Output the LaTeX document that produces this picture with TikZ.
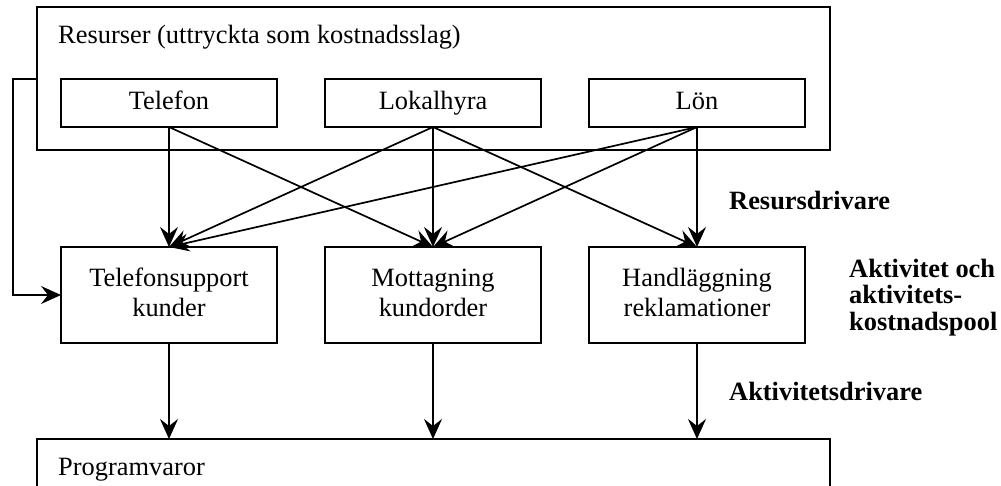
\documentclass[tikz,border=0pt]{standalone}
\usepackage{fontspec}
\setmainfont{Liberation Serif}
\usetikzlibrary{arrows.meta}
\begin{document}
\begin{tikzpicture}[x=1pt,y=-1pt,
  txt/.style={font=\fontsize{26.4}{30}\selectfont},
  box/.style={txt,draw,line width=2.2pt,inner sep=0pt,outer sep=0pt,minimum width=216pt},
  topbox/.style={box,minimum height=48pt,text height=18pt,text depth=6pt},
  midbox/.style={box,minimum height=96pt,align=center},
  arr/.style={line width=1.7pt,-{Stealth[length=20pt,width=18pt,inset=7pt]}},
  lbl/.style={font=\fontsize{26.4}{26.5}\selectfont\bfseries,anchor=base west,inner sep=0pt,align=left}]
\useasboundingbox (0,0) rectangle (1001,485);
\clip (0,0) rectangle (1001,485);
% outer resource box
\node[draw,line width=2.2pt,inner sep=0pt,outer sep=0pt,minimum width=793pt,minimum height=143pt] (res) at (433.5,78.5) {};
\node[txt,anchor=base west,inner sep=0pt] (restxt) at (58,43) {Resurser (uttryckta som kostnadsslag)};
\node[topbox] (tel) at (169,103) {Telefon};
\node[topbox] (lok) at (433,103) {Lokalhyra};
\node[topbox] (lon) at (697,103) {Lön};
% activities
\node[midbox] (ts) at (169,295) {Telefonsupport\strut\\kunder\strut};
\node[midbox] (mk) at (433,295) {Mottagning\strut\\kundorder\strut};
\node[midbox] (hr) at (697,295) {Handläggning\strut\\reklamationer\strut};
% bottom box
\node[draw,line width=2.2pt,inner sep=0pt,outer sep=0pt,minimum width=793pt,minimum height=100pt] (prog) at (433.5,489) {};
\node[txt,anchor=base west,inner sep=0pt] (progtxt) at (58,475) {Programvaror};
% labels
\node[lbl] (l1) at (729,209) {Resursdrivare};
\node[lbl] (l2) at (849,330) {Aktivitet och\\aktivitets-\\kostnadspool};
\node[lbl] (l3) at (729,400) {Aktivitetsdrivare};
% resource drivers
\draw[arr] (tel.south) -- (ts.north);
\draw[arr] (tel.south) -- (mk.north);
\draw[arr] (lok.south) -- (ts.north);
\draw[arr] (lok.south) -- (mk.north);
\draw[arr] (lok.south) -- (hr.north);
\draw[arr] (lon.south) -- (ts.north);
\draw[arr] (lon.south) -- (mk.north);
\draw[arr] (lon.south) -- (hr.north);
% left connector
\coordinate (lc) at (37,79);
\coordinate (lb) at (13,79);
\draw[arr] (lc) -- (lb) |- (ts.west);
% activity drivers
\draw[arr] (ts.south) -- (ts.south |- prog.north);
\draw[arr] (mk.south) -- (mk.south |- prog.north);
\draw[arr] (hr.south) -- (hr.south |- prog.north);
\end{tikzpicture}
\end{document}
